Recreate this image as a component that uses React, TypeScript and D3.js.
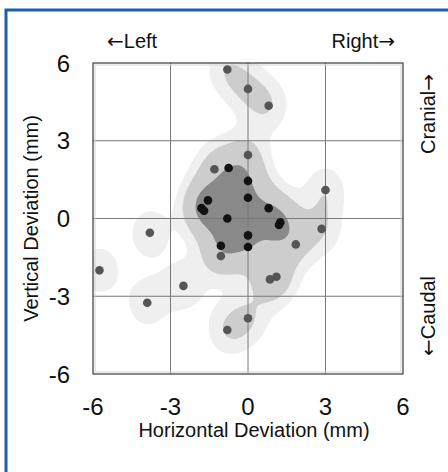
import React from 'react'
import * as d3 from 'd3'

// deviation of each measurement (mm)
const xDev = [-0.8, 0, 0.8, 0, -1.3, -0.75, 0, 0, -1.55, -1.8, -1.7, -0.8, 0.8, 1.2, 1.25, 0, -1.05, 0, -1.05, 1.85, -3.8, -5.75, 0.85, 1.1, -2.5, -3.9, 0, -0.8, 3.0, 2.85]
const yDev = [5.75, 5.0, 4.35, 2.45, 1.9, 1.95, 1.45, 0.8, 0.7, 0.4, 0.3, 0.0, 0.4, -0.25, -0.15, -0.65, -1.05, -1.1, -1.45, -1.0, -0.55, -2.0, -2.35, -2.25, -2.6, -3.25, -3.85, -4.3, 1.1, -0.4]
const ticks = [-6, -3, 0, 3, 6]
const levels = [0.55, 1.2, 2.7]
const levelFill = ['#efefef', '#cdcdcd', '#898989']

const W = 448, H = 472
const margin = {left: 93, right: 45, top: 63, bottom: 98}
const font = 'Liberation Sans, Arial, sans-serif'
const arrowFont = 'DejaVu Sans'

const App = () => {
  const x = d3.scaleLinear().domain([-6, 6]).range([margin.left, W - margin.right])
  const y = d3.scaleLinear().domain([-6, 6]).range([H - margin.bottom, margin.top])
  const pts = xDev.map((d, i) => ({x: d, y: yDev[i]}))

  // gaussian kernel density on a grid
  const sx = 0.6, sy = 0.75
  const g0 = -7, dg = 0.1, n = 140
  const dens = (px, py) => d3.sum(pts, p => Math.exp(-((px - p.x) ** 2) / (2 * sx * sx) - ((py - p.y) ** 2) / (2 * sy * sy)))
  const values = new Array(n * n)
  for (let j = 0; j < n; j++) {
    for (let i = 0; i < n; i++) {
      values[i + j * n] = dens(g0 + (i + 0.5) * dg, g0 + (j + 0.5) * dg)
    }
  }
  const contours = d3.contours().size([n, n]).thresholds(levels)(values)
  const proj = d3.geoTransform({
    point: function (px, py) { this.stream.point(x(g0 + px * dg), y(g0 + py * dg)) }
  })
  const path = d3.geoPath(proj)

  return (
    <svg width={W} height={H} style={{position: 'absolute', left: 0, top: 0}} fontFamily={font}>
      <defs>
        <clipPath id="plotclip">
          <rect x={x(-6)} y={y(6)} width={x(6) - x(-6)} height={y(-6) - y(6)} />
        </clipPath>
      </defs>
      <rect width={W} height={H} fill="#fff" />
      <path d={`M6,${H} V10 H${W}`} fill="none" stroke="#1f5fa8" strokeWidth={3} />

      <g clipPath="url(#plotclip)">
        {contours.map((c, i) => (
          <path key={i} d={path(c)} fill={levelFill[i]} stroke="none" />
        ))}
      </g>

      {ticks.slice(1, -1).map(t => (
        <g key={t}>
          <line x1={x(t)} x2={x(t)} y1={y(-6)} y2={y(6)} stroke="#7a7a7a" strokeWidth={1} />
          <line x1={x(-6)} x2={x(6)} y1={y(t)} y2={y(t)} stroke="#7a7a7a" strokeWidth={1} />
        </g>
      ))}
      <rect x={x(-6) + 2} y={y(6) + 2} width={x(6) - x(-6) - 4} height={y(-6) - y(6) - 4} fill="none" stroke="#d4d4d4" strokeWidth={1} />
      <rect x={x(-6)} y={y(6)} width={x(6) - x(-6)} height={y(-6) - y(6)} fill="none" stroke="#3a3a3a" strokeWidth={1.2} />

      {pts.map((p, i) => (
        <circle key={i} cx={x(p.x)} cy={y(p.y)} r={4.3}
          fill={dens(p.x, p.y) > levels[2] ? '#111' : '#555'} />
      ))}

      {ticks.map(t => (
        <text key={'x' + t} x={x(t)} y={415} textAnchor="middle" fontSize={24} fill="#111">{t}</text>
      ))}
      {ticks.map(t => (
        <text key={'y' + t} x={70} y={y(t)} textAnchor="end" dominantBaseline="central" fontSize={24} fill="#111">{t}</text>
      ))}

      <text x={254} y={437} textAnchor="middle" fontSize={20} fill="#111">Horizontal Deviation (mm)</text>
      <text transform={`translate(38,${y(0)}) rotate(-90)`} textAnchor="middle" fontSize={20} fill="#111">Vertical Deviation (mm)</text>

      <text x={107} y={48} fontSize={20} fill="#111"><tspan fontFamily={arrowFont}>←</tspan>Left</text>
      <text x={395} y={48} textAnchor="end" fontSize={20} fill="#111">Right<tspan fontFamily={arrowFont}>→</tspan></text>
      <text transform={`translate(435,114) rotate(-90)`} textAnchor="middle" fontSize={20} fill="#111">Cranial<tspan fontFamily={arrowFont}>→</tspan></text>
      <text transform={`translate(435,316) rotate(-90)`} textAnchor="middle" fontSize={20} fill="#111"><tspan fontFamily={arrowFont}>←</tspan>Caudal</text>
    </svg>
  )
}

export default App
